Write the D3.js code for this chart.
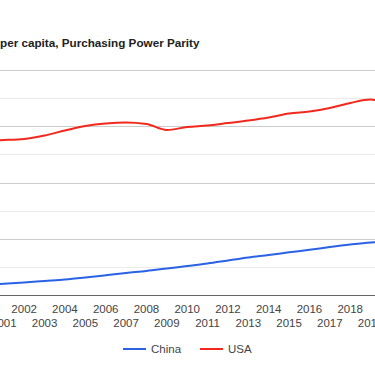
<!DOCTYPE html>
<html>
<head>
<meta charset="utf-8">
<script src="https://cdnjs.cloudflare.com/ajax/libs/d3/7.8.5/d3.min.js"></script>
<style>
  body { margin: 0; background: #fff; }
  svg { display: block; font-family: "Liberation Sans", Arial, sans-serif; }
</style>
</head>
<body>
<div id="chart"></div>
<script>
// data
const years = [2000, 2001, 2002, 2003, 2004, 2005, 2006, 2007, 2008, 2009, 2010,
               2011, 2012, 2013, 2014, 2015, 2016, 2017, 2018, 2019, 2020];
const usa = [54930, 55110, 55470, 56710, 58490, 60090, 60980, 61330, 60800, 58670, 59730,
             60270, 61160, 62040, 63110, 64530, 65240, 66490, 68270, 69510, 67020];
const china = [3630, 3980, 4440, 4980, 5510, 6220, 7000, 7820, 8530, 9420, 10310,
               11200, 12270, 13330, 14220, 15180, 16070, 17070, 17960, 18670, 18950];
const yearLabels = [2001, 2002, 2003, 2004, 2005, 2006, 2007, 2008, 2009, 2010,
                    2011, 2012, 2013, 2014, 2015, 2016, 2017, 2018, 2019];
const majorTicks = [0, 20000, 40000, 60000, 80000];
const minorTicks = [10000, 30000, 50000, 70000];
const seriesNames = ["China", "USA"];
const seriesColors = ["#2a62e6", "#f2281c"];
const title = "per capita, Purchasing Power Parity";

const width = 375, height = 366;

const svg = d3.select("#chart").append("svg")
  .attr("width", width)
  .attr("height", height);

// chart area runs past the left and right edge of the picture
const x = d3.scaleLinear().domain([2000, 2020]).range([-16.6, 391]);
const y = d3.scaleLinear().domain([0, 80000]).range([295, 70]);

svg.append("text")
  .attr("x", 0)
  .attr("y", 47)
  .attr("font-size", "11.7px")
  .attr("font-weight", "bold")
  .attr("fill", "#222")
  .text(title);

// gridlines
svg.selectAll(".minor").data(minorTicks).enter().append("line")
  .attr("x1", x(2000)).attr("x2", x(2020))
  .attr("y1", d => Math.round(y(d)) + 0.5).attr("y2", d => Math.round(y(d)) + 0.5)
  .attr("stroke", "#ebebeb");

svg.selectAll(".major").data(majorTicks.slice(1)).enter().append("line")
  .attr("x1", x(2000)).attr("x2", x(2020))
  .attr("y1", d => Math.round(y(d)) + 0.5).attr("y2", d => Math.round(y(d)) + 0.5)
  .attr("stroke", "#cccccc");

// lines
const line = d3.line()
  .x((d, i) => x(years[i]))
  .y(d => y(d))
  .curve(d3.curveMonotoneX);

[china, usa].forEach((s, i) => {
  svg.append("path")
    .attr("d", line(s))
    .attr("fill", "none")
    .attr("stroke", seriesColors[i])
    .attr("stroke-width", 2);
});

// baseline
svg.append("line")
  .attr("x1", x(2000)).attr("x2", x(2020))
  .attr("y1", Math.round(y(0)) + 0.5).attr("y2", Math.round(y(0)) + 0.5)
  .attr("stroke", "#666");

// year labels in two rows
svg.selectAll(".yr").data(yearLabels).enter().append("text")
  .attr("x", d => x(d))
  .attr("y", d => d % 2 === 0 ? 313 : 327)
  .attr("text-anchor", "middle")
  .attr("font-size", "11.5px")
  .attr("fill", "#444")
  .text(d => d);

// legend
const legendX = [123, 200];
seriesNames.forEach((name, i) => {
  svg.append("line")
    .attr("x1", legendX[i]).attr("x2", legendX[i] + 23)
    .attr("y1", 349).attr("y2", 349)
    .attr("stroke", seriesColors[i])
    .attr("stroke-width", 2);
  svg.append("text")
    .attr("x", legendX[i] + 28)
    .attr("y", 352.5)
    .attr("font-size", "11.5px")
    .attr("fill", "#444")
    .text(name);
});
</script>
</body>
</html>
